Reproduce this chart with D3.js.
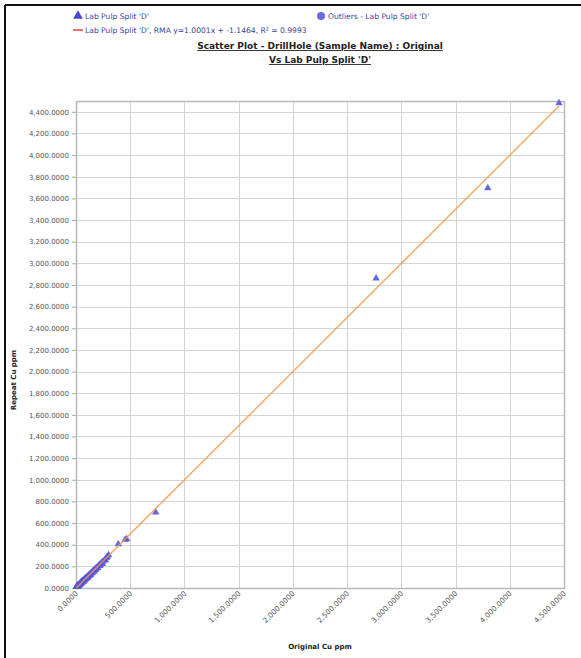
<!DOCTYPE html>
<html>
<head>
<meta charset="utf-8">
<script src="https://cdn.jsdelivr.net/npm/d3@7"></script>
<style>
  html, body { margin: 0; padding: 0; background: #fff; }
  svg { display: block; }
</style>
</head>
<body>
<svg id="chart" width="581" height="658"></svg>
<script>
// Lab Pulp Split 'D' duplicates: [original Cu ppm, repeat Cu ppm]
const samplePairs = [
  [4, 2], [6, 5], [8, 6], [10, 4], [12, 9], [14, 8], [15, 14], [18, 12],
  [20, 10], [22, 20], [25, 19], [27, 14], [30, 26], [32, 20], [34, 30],
  [38, 33], [40, 26], [42, 40], [46, 41], [48, 34], [50, 45], [55, 52],
  [58, 42], [60, 54], [65, 60], [68, 50], [70, 63], [76, 72], [80, 62],
  [82, 75], [88, 80], [92, 72], [95, 88], [100, 82], [102, 95], [110, 100],
  [112, 90], [118, 108], [122, 102], [125, 118], [132, 122], [135, 112],
  [140, 130], [148, 138], [150, 128], [155, 146], [162, 150], [168, 145],
  [170, 160], [178, 165], [182, 160], [186, 176], [195, 182], [200, 175],
  [205, 192], [215, 205], [220, 196], [225, 210], [238, 225], [242, 215],
  [250, 238], [265, 250], [272, 248], [280, 270], [290, 282], [300, 296],
  [390, 397], [452, 437], [467, 443], [735, 690],
  [2767, 2853], [3797, 3687], [4454, 4472]
];

// RMA regression of repeat on original
const rmaSlope = 1.0001;
const rmaIntercept = -1.1464;
const rmaR2 = 0.9993;

const xTicks = [0, 500, 1000, 1500, 2000, 2500, 3000, 3500, 4000, 4500];
const yTicks = [0, 200, 400, 600, 800, 1000, 1200, 1400, 1600, 1800, 2000,
  2200, 2400, 2600, 2800, 3000, 3200, 3400, 3600, 3800, 4000, 4200, 4400];

const svg = d3.select("#chart");
const font = "'DejaVu Sans', Verdana, sans-serif";

const plot = { left: 76, right: 564, top: 101, bottom: 588 };

const x = d3.scaleLinear().domain([0, 4500]).range([plot.left, plot.right]);
const y = d3.scaleLinear().domain([0, 4500]).range([plot.bottom, plot.top]);

// frame edges
svg.append("line").attr("x1", 5).attr("y1", 5).attr("x2", 581).attr("y2", 5)
  .attr("stroke", "#111").attr("stroke-width", 2);
svg.append("line").attr("x1", 5).attr("y1", 5).attr("x2", 5).attr("y2", 658)
  .attr("stroke", "#111").attr("stroke-width", 2);

// gridlines
const grid = svg.append("g").attr("stroke", "#d4d4d4").attr("stroke-width", 1);
grid.selectAll("line.h").data(yTicks).join("line").attr("class", "h")
  .attr("x1", plot.left).attr("x2", plot.right)
  .attr("y1", d => Math.round(y(d)) + 0.5).attr("y2", d => Math.round(y(d)) + 0.5);
grid.selectAll("line.v").data(xTicks).join("line").attr("class", "v")
  .attr("y1", plot.top).attr("y2", plot.bottom)
  .attr("x1", d => Math.round(x(d)) + 0.5).attr("x2", d => Math.round(x(d)) + 0.5);

svg.append("rect")
  .attr("x", plot.left + 0.5).attr("y", plot.top + 0.5)
  .attr("width", plot.right - plot.left).attr("height", plot.bottom - plot.top)
  .attr("fill", "none").attr("stroke", "#b8b8b8").attr("stroke-width", 1.5);

// y axis
const yAxis = d3.axisLeft(y).tickValues(yTicks).tickSize(4).tickPadding(3)
  .tickFormat(d3.format(",.4f"));
const gy = svg.append("g").attr("transform", `translate(${plot.left},0)`).call(yAxis);
gy.select(".domain").remove();
gy.selectAll(".tick line").attr("stroke", "#aaa");
gy.selectAll(".tick text").attr("fill", "#555").style("font-family", font).style("font-size", "7px");

// x axis
const xAxis = d3.axisBottom(x).tickValues(xTicks).tickSize(0).tickPadding(0)
  .tickFormat(d3.format(",.4f"));
const gx = svg.append("g").attr("transform", `translate(0,${plot.bottom})`).call(xAxis);
gx.select(".domain").remove();
gx.selectAll(".tick text")
  .attr("fill", "#555").style("font-family", font).style("font-size", "7.3px")
  .attr("text-anchor", "end").attr("dy", null).attr("y", 0)
  .attr("transform", "translate(2,6) rotate(-45)");

// axis titles
svg.append("text").attr("x", 320).attr("y", 649).attr("text-anchor", "middle")
  .style("font-family", font).style("font-size", "7px").style("font-weight", "bold")
  .attr("fill", "#222").text("Original Cu ppm");
svg.append("text").attr("transform", "translate(16,380) rotate(-90)").attr("text-anchor", "middle")
  .style("font-family", font).style("font-size", "7px").style("font-weight", "bold")
  .attr("fill", "#222").text("Repeat Cu ppm");

// points
const triangle = d3.symbol().type(d3.symbolTriangle).size(24);
svg.append("g").selectAll("path").data(samplePairs).join("path")
  .attr("d", triangle)
  .attr("transform", d => `translate(${x(d[0])},${y(d[1]) - 1})`)
  .attr("fill", "#5656dc").attr("fill-opacity", 0.9);

// regression line across the sample range
const xr = d3.extent(samplePairs, d => d[0]);
svg.append("line")
  .attr("x1", x(xr[0])).attr("y1", y(rmaSlope * xr[0] + rmaIntercept))
  .attr("x2", x(xr[1])).attr("y2", y(rmaSlope * xr[1] + rmaIntercept))
  .attr("stroke", "#f39a4a").attr("stroke-width", 1.5).attr("stroke-opacity", 0.85);

// title
const title = svg.append("text").attr("text-anchor", "middle")
  .style("font-family", font).style("font-size", "9px").style("font-weight", "bold")
  .attr("fill", "#222").style("text-decoration", "underline");
title.append("tspan").attr("x", 320).attr("y", 49).text("Scatter Plot - DrillHole (Sample Name) : Original");
title.append("tspan").attr("x", 320).attr("y", 63).text("Vs Lab Pulp Split 'D'");

// legend
const legendColor = "#3b3f9c";
const lg = svg.append("g").style("font-family", font).style("font-size", "7.6px").attr("fill", legendColor);
lg.append("path").attr("d", d3.symbol().type(d3.symbolTriangle).size(42))
  .attr("transform", "translate(78,16)").attr("fill", "#4848c8");
lg.append("text").attr("x", 85).attr("y", 19).text("Lab Pulp Split 'D'");
lg.append("circle").attr("cx", 321).attr("cy", 16).attr("r", 4).attr("fill", "#6a6ae6");
lg.append("text").attr("x", 328).attr("y", 19).text("Outliers - Lab Pulp Split 'D'");
lg.append("line").attr("x1", 73).attr("x2", 83).attr("y1", 30).attr("y2", 30)
  .attr("stroke", "#e04848").attr("stroke-width", 1.5);
lg.append("text").attr("x", 85).attr("y", 33)
  .text(`Lab Pulp Split 'D', RMA y=${rmaSlope.toFixed(4)}x + ${rmaIntercept}, R² = ${rmaR2}`);
</script>
</body>
</html>
